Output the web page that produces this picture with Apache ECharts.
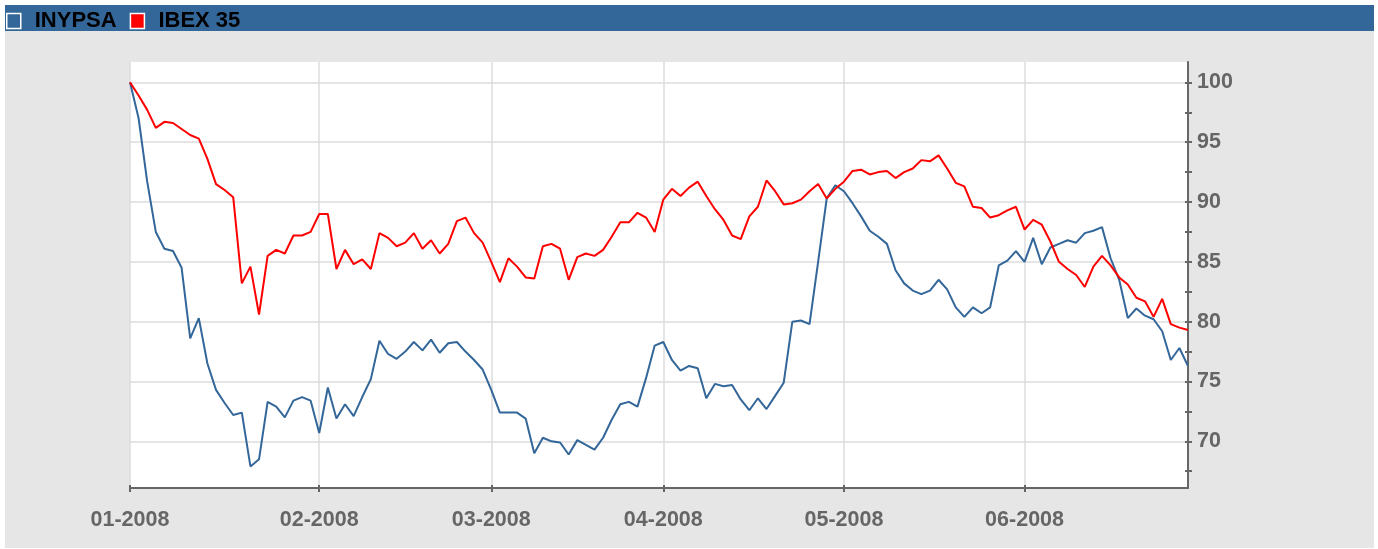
<!DOCTYPE html>
<html><head><meta charset="utf-8">
<script src="https://cdn.jsdelivr.net/npm/echarts@6/dist/echarts.min.js"></script>
<style>html,body{margin:0;padding:0;background:#fff;}#c{width:1378px;height:549px;}</style>
</head><body><div id="c"></div>
<script>
const months = ['01-2008','02-2008','03-2008','04-2008','05-2008','06-2008'];
const pointsPerMonth = [22, 20, 20, 21, 21, 20];

const inypsa = [
  100, 97.0, 91.7, 87.5, 86.1, 85.9, 84.5, 78.6, 80.3, 76.5, 74.3, 73.2, 72.2, 72.4, 67.9, 68.5, 73.3, 72.9, 72.0, 73.4, 73.7, 73.4,
  70.7, 74.5, 71.9, 73.1, 72.1, 73.7, 75.2, 78.4, 77.3, 76.9, 77.5, 78.3, 77.6, 78.5, 77.4, 78.2, 78.3, 77.5, 76.8, 76.0,
  74.3, 72.4, 72.4, 72.4, 71.9, 69.0, 70.3, 70.0, 69.9, 68.9, 70.1, 69.7, 69.3, 70.3, 71.8, 73.1, 73.3, 72.9, 75.3, 78.0,
  78.3, 76.8, 75.9, 76.3, 76.1, 73.6, 74.8, 74.6, 74.7, 73.5, 72.6, 73.6, 72.7, 73.8, 74.9, 80.0, 80.1, 79.8, 85.0, 90.3, 91.4,
  90.9, 89.9, 88.8, 87.6, 87.1, 86.5, 84.3, 83.2, 82.6, 82.3, 82.6, 83.5, 82.7, 81.2, 80.4, 81.2, 80.7, 81.2, 84.7, 85.1, 85.9,
  85.0, 87.0, 84.8, 86.2, 86.5, 86.8, 86.6, 87.4, 87.6, 87.9, 85.3, 83.5, 80.3, 81.1, 80.5, 80.2, 79.2, 76.8, 77.8, 76.3
];

const ibex35 = [
  100, 98.9, 97.7, 96.2, 96.7, 96.6, 96.1, 95.6, 95.3, 93.6, 91.5, 91.0, 90.4, 83.2, 84.6, 80.6, 85.5, 86.0, 85.7, 87.2, 87.2, 87.5,
  89.0, 89.0, 84.4, 86.0, 84.8, 85.2, 84.4, 87.4, 87.0, 86.3, 86.6, 87.4, 86.1, 86.8, 85.7, 86.5, 88.4, 88.7, 87.4, 86.6,
  85.0, 83.3, 85.3, 84.6, 83.7, 83.6, 86.3, 86.5, 86.1, 83.5, 85.4, 85.7, 85.5, 86.0, 87.1, 88.3, 88.3, 89.1, 88.7, 87.5,
  90.2, 91.1, 90.5, 91.2, 91.7, 90.5, 89.4, 88.5, 87.2, 86.9, 88.8, 89.6, 91.8, 90.9, 89.8, 89.9, 90.2, 90.9, 91.5, 90.3, 91.1,
  91.7, 92.6, 92.7, 92.3, 92.5, 92.6, 92.0, 92.5, 92.8, 93.5, 93.4, 93.9, 92.8, 91.6, 91.3, 89.6, 89.5, 88.7, 88.9, 89.3, 89.6,
  87.7, 88.5, 88.1, 86.7, 85.0, 84.4, 83.9, 82.9, 84.6, 85.5, 84.7, 83.7, 83.1, 82.0, 81.7, 80.4, 81.9, 79.8, 79.5, 79.3
];

const yTickValues = [67.5, 70, 72.5, 75, 77.5, 80, 82.5, 85, 87.5, 90, 92.5, 95, 97.5, 100];
const yLabelValues = [70, 75, 80, 85, 90, 95, 100];

const categories = [];
months.forEach((m, mi) => { for (let k = 0; k < pointsPerMonth[mi]; k++) categories.push(m + '/' + k); });
const isMonthStart = (i, v) => /\/0$/.test(v);

const AXIS = '#666666';
const FONT = 'Liberation Sans, Arial, sans-serif';
const Y_MIN = 66.1, Y_MAX = 101.7;

const chart = echarts.init(document.getElementById('c'), null, {renderer: 'canvas'});
chart.setOption({
  animation: false,
  backgroundColor: '#ffffff',
  textStyle: {fontFamily: FONT},
  graphic: [
    {type: 'rect', z: -10, silent: true, shape: {x: 5, y: 5, width: 1369, height: 26}, style: {fill: '#336699'}},
    {type: 'rect', z: -10, silent: true, shape: {x: 5, y: 31, width: 1369, height: 517}, style: {fill: '#e6e6e6'}}
  ],
  legend: {
    left: 6, top: 10, padding: 0,
    itemWidth: 14, itemHeight: 15, itemGap: 13,
    icon: 'rect', selectedMode: false,
    itemStyle: {borderColor: '#ffffff', borderWidth: 1.5},
    textStyle: {color: '#000000', fontWeight: 'bold', fontSize: 22, fontFamily: FONT, padding: [0, 0, 0, 9]},
    data: ['INYPSA', 'IBEX 35']
  },
  grid: {left: 130, top: 62, width: 1058, height: 426, show: true, backgroundColor: '#ffffff', borderWidth: 0},
  xAxis: [
    {
      type: 'category', data: categories, boundaryGap: false, position: 'bottom',
      axisLine: {show: true, lineStyle: {color: AXIS, width: 2}},
      axisTick: {show: true, interval: isMonthStart, length: 4, lineStyle: {color: AXIS, width: 2}},
      axisLabel: {show: true, interval: isMonthStart, formatter: v => v.split('/')[0],
        color: AXIS, fontWeight: 'bold', fontSize: 21.5, fontFamily: FONT, margin: 21},
      splitLine: {show: true, interval: isMonthStart, lineStyle: {color: '#dcdcdc', width: 1.5}}
    },
    {
      type: 'category', data: categories, boundaryGap: false, position: 'bottom',
      axisLine: {show: false},
      axisTick: {show: true, inside: true, interval: isMonthStart, length: 3, lineStyle: {color: AXIS, width: 2}},
      axisLabel: {show: false},
      splitLine: {show: false}
    }
  ],
  yAxis: [
    {
      type: 'value', position: 'right', min: Y_MIN, max: Y_MAX,
      axisLine: {show: true, lineStyle: {color: AXIS, width: 2}},
      axisTick: {show: true, customValues: yTickValues, length: 4, lineStyle: {color: AXIS, width: 2}},
      axisLabel: {show: true, customValues: yLabelValues, color: AXIS, fontWeight: 'bold', fontSize: 21.5, fontFamily: FONT, margin: 9},
      splitLine: {show: false}
    },
    {
      type: 'value', position: 'right', min: Y_MIN, max: Y_MAX,
      axisLine: {show: false},
      axisTick: {show: true, inside: true, customValues: yTickValues, length: 3, lineStyle: {color: AXIS, width: 2}},
      axisLabel: {show: false},
      splitLine: {show: false}
    },
    {
      type: 'value', position: 'right', min: Y_MIN, max: Y_MAX,
      axisLine: {show: false},
      axisTick: {show: false, customValues: yLabelValues},
      axisLabel: {show: false},
      splitLine: {show: true, lineStyle: {color: '#dcdcdc', width: 1.5}}
    }
  ],
  series: [
    {name: 'INYPSA', type: 'line', data: inypsa, xAxisIndex: 0, yAxisIndex: 0, showSymbol: false, symbol: 'none',
      color: '#336699', lineStyle: {color: '#336699', width: 2}, z: 3},
    {name: 'IBEX 35', type: 'line', data: ibex35, xAxisIndex: 0, yAxisIndex: 0, showSymbol: false, symbol: 'none',
      color: '#ff0000', lineStyle: {color: '#ff0000', width: 2}, z: 3}
  ]
});
</script></body></html>
